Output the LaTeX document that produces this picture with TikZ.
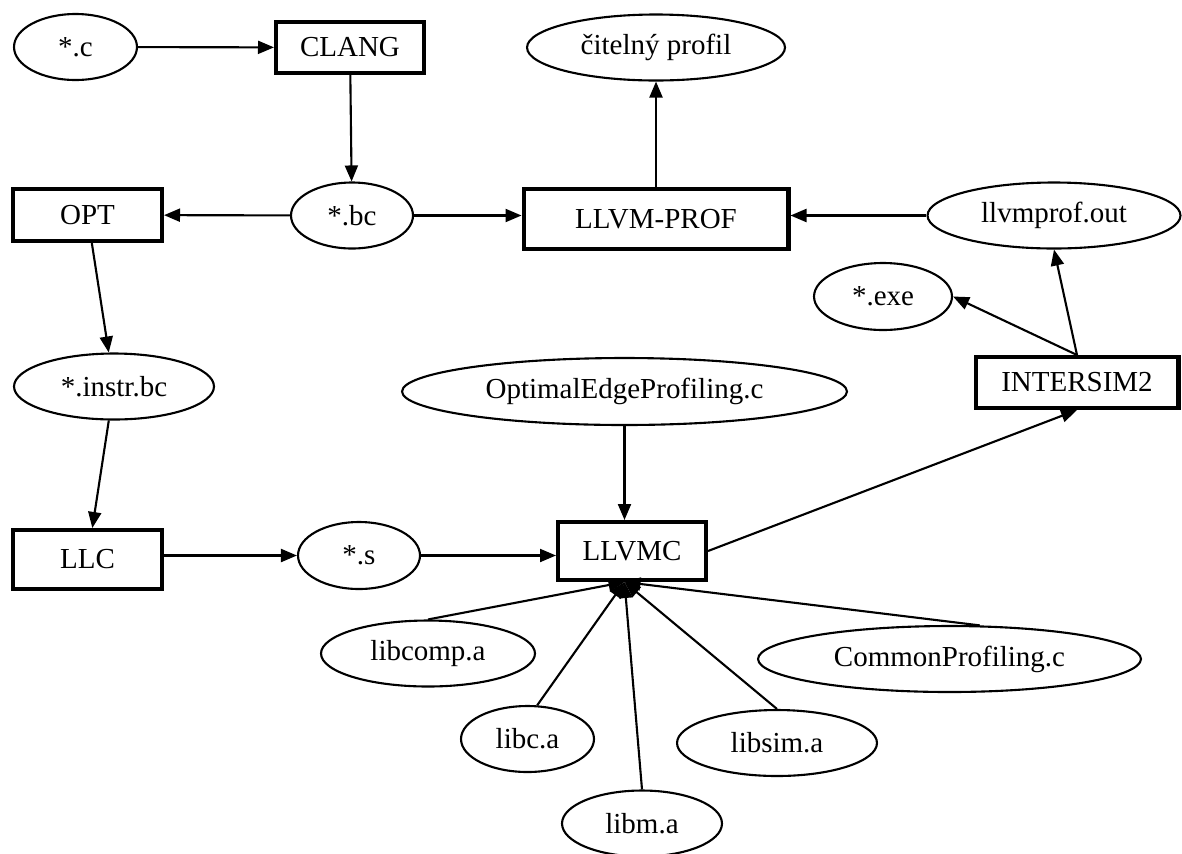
\documentclass[tikz,border=0pt]{standalone}
\usepackage{fontspec}
\setmainfont{Liberation Serif}
\usetikzlibrary{shapes.geometric, arrows.meta}
\tikzset{
    file/.style={draw, ellipse, line width=1.2pt, inner sep=0pt,
        minimum height=1.32cm, font=\fontsize{16.5}{20}\selectfont},
    tool/.style={draw, rectangle, line width=2.3pt, inner sep=0pt,
        minimum height=1.04cm, font=\fontsize{16.5}{20}\selectfont},
    flow/.style={-{Triangle[length=0.32cm,width=0.26cm]}, line width=1.2pt},
}
\begin{document}
\begin{tikzpicture}[x=0.02cm, y=-0.02cm]
\useasboundingbox (0,0) rectangle (1182,853);

\node[file, minimum width=2.46cm] (c) at (75.5,47) {*.c};
\node[tool, minimum width=2.96cm, minimum height=1.02cm] (clang) at (350,47.5) {CLANG};
\node[file, minimum width=5.16cm] (citprof) at (656,47.5) {čitelný profil};
\node[tool, minimum width=2.98cm] (opt) at (87.5,215) {OPT};
\node[file, minimum width=2.44cm] (bc) at (352,215.5) {*.bc};
\node[tool, minimum width=5.3cm, minimum height=1.2cm] (llvmprof) at (656,219) {LLVM-PROF};
\node[file, minimum width=5.06cm] (profout) at (1054,215.5) {llvmprof.out};
\node[file, minimum width=2.76cm, minimum height=1.34cm] (exe) at (883,296.5) {*.exe};
\node[file, minimum width=4cm] (instrbc) at (114,386.5) {*.instr.bc};
\node[tool, minimum width=4.06cm, minimum height=1.02cm] (intersim) at (1077,382.5) {INTERSIM2};
\node[file, minimum width=8.9cm, minimum height=1.34cm] (optedge) at (624.5,391.5) {OptimalEdgeProfiling.c};
\node[tool, minimum width=2.98cm, minimum height=1.18cm] (llc) at (87.5,559.5) {LLC};
\node[file, minimum width=2.44cm, minimum height=1.34cm] (asm) at (359,555.5) {*.s};
\node[tool, minimum width=2.96cm, minimum height=1.16cm] (llvmc) at (632,551) {LLVMC};
\node[file, minimum width=4.28cm] (libcomp) at (428,653.5) {libcomp.a};
\node[file, minimum width=7.66cm] (commonprof) at (949.5,659) {CommonProfiling.c};
\node[file, minimum width=2.66cm] (libc) at (527.5,739) {libc.a};
\node[file, minimum width=4cm] (libsim) at (777,743) {libsim.a};
\node[file, minimum width=3.2cm] (libm) at (642,823.5) {libm.a};

\draw[flow] (c) -- (clang);
\draw[flow] (clang) -- (bc);
\draw[flow] (bc) -- (opt);
\draw[flow] (bc) -- (bc -| llvmprof.west);
\draw[flow] (llvmprof) -- (citprof);
\draw[flow] (profout) -- (profout -| llvmprof.east);
\draw[flow] (opt) -- (instrbc);
\draw[flow] (instrbc) -- (llc);
\draw[flow] (llc.east |- asm) -- (asm);
\draw[flow] (asm) -- (asm -| llvmc.west);
\draw[flow] (optedge) -- (optedge |- llvmc.north);
\draw[flow] (llvmc.east) -- (intersim.south);
\draw[flow] (intersim.north) -- (exe.east);
\draw[flow] (intersim.north) -- (profout.south);

% libraries linked into llvmc
\coordinate (llvmcin) at (optedge |- llvmc.south);
\foreach \lib/\pt in {libcomp/north, libc/74, libm/north, libsim/north, commonprof/48}
    \draw[flow] (\lib.\pt) -- (llvmcin);
\end{tikzpicture}
\end{document}
